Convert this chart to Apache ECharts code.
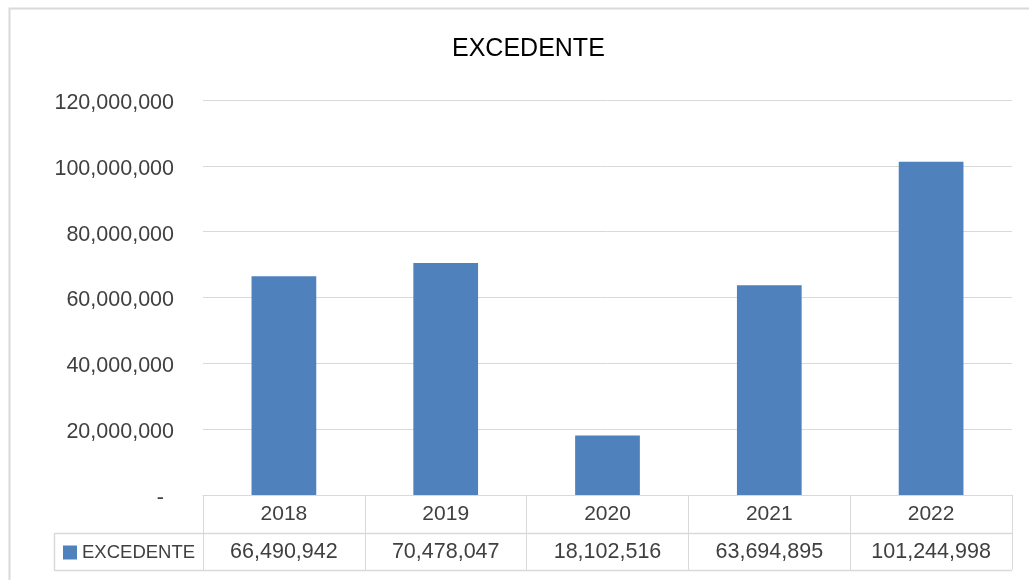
<!DOCTYPE html>
<html>
<head>
<meta charset="utf-8">
<script src="https://cdn.jsdelivr.net/npm/echarts@6/dist/echarts.min.js"></script>
<style>html,body{margin:0;padding:0;background:#fff}#c{width:1029px;height:580px}</style>
</head>
<body>
<div id="c"></div>
<script>
var titleText = 'EXCEDENTE';
var seriesName = 'EXCEDENTE';
var categories = ['2018', '2019', '2020', '2021', '2022'];
var values = [66490942, 70478047, 18102516, 63694895, 101244998];
var yMin = 0, yMax = 120000000, yInterval = 20000000;

function fmt(n) { return Number(n).toLocaleString('en-US'); }

var FONT = '"Liberation Sans", Arial, sans-serif';
var GRID = '#D9D9D9';
var TXT = '#404040';

var chart = echarts.init(document.getElementById('c'), null, {renderer: 'canvas'});
chart.setOption({
  backgroundColor: '#ffffff',
  animation: false,
  title: {
    text: titleText, left: 452, top: 37, padding: 0,
    textStyle: {fontFamily: FONT, fontSize: 25, fontWeight: 'normal', color: '#000000'}
  },
  legend: {
    data: [seriesName], left: 63, top: 542, icon: 'rect', padding: 0,
    itemWidth: 14, itemHeight: 14,
    textStyle: {fontFamily: FONT, fontSize: 18.5, color: TXT, lineHeight: 21}
  },
  grid: {left: 203, right: 17, top: 100, bottom: 85},
  xAxis: {
    type: 'category', data: categories, boundaryGap: true,
    axisLine: {show: true, lineStyle: {color: GRID, width: 1}},
    axisTick: {show: true, alignWithLabel: false, length: 75, lineStyle: {color: GRID, width: 1}},
    axisLabel: {
      margin: 0, interval: 0,
      formatter: function (v, i) { return '{y|' + v + '}\n{v|' + fmt(values[i]) + '}'; },
      rich: {
        y: {fontFamily: FONT, fontSize: 21, color: TXT, lineHeight: 39, align: 'center'},
        v: {fontFamily: FONT, fontSize: 21.5, color: TXT, lineHeight: 37, align: 'center'}
      }
    }
  },
  yAxis: {
    type: 'value', min: yMin, max: yMax, interval: yInterval,
    axisLine: {show: false}, axisTick: {show: false},
    splitLine: {lineStyle: {color: GRID, width: 1}},
    axisLabel: {
      margin: 29, padding: [6, 0, 0, 0],
      fontFamily: FONT, fontSize: 21.5, color: TXT,
      formatter: function (v) { return v === 0 ? '{d|-}' : fmt(v); },
      rich: {d: {fontFamily: FONT, fontSize: 21.5, color: TXT, padding: [0, 10, 0, 0]}}
    }
  },
  series: [{
    name: seriesName, type: 'bar', data: values, barWidth: '40%',
    itemStyle: {color: '#4F81BD'}
  }],
  graphic: [
    {type: 'rect', shape: {x: 9.5, y: 8.5, width: 1040, height: 600}, style: {fill: 'none', stroke: GRID, lineWidth: 2}, silent: true},
    {type: 'line', shape: {x1: 54, y1: 533.5, x2: 1012, y2: 533.5}, style: {stroke: GRID, lineWidth: 1.5}, silent: true},
    {type: 'line', shape: {x1: 54, y1: 570.5, x2: 1012, y2: 570.5}, style: {stroke: GRID, lineWidth: 1.5}, silent: true},
    {type: 'line', shape: {x1: 54.5, y1: 533, x2: 54.5, y2: 571}, style: {stroke: GRID, lineWidth: 1.5}, silent: true}
  ]
});
</script>
</body>
</html>
